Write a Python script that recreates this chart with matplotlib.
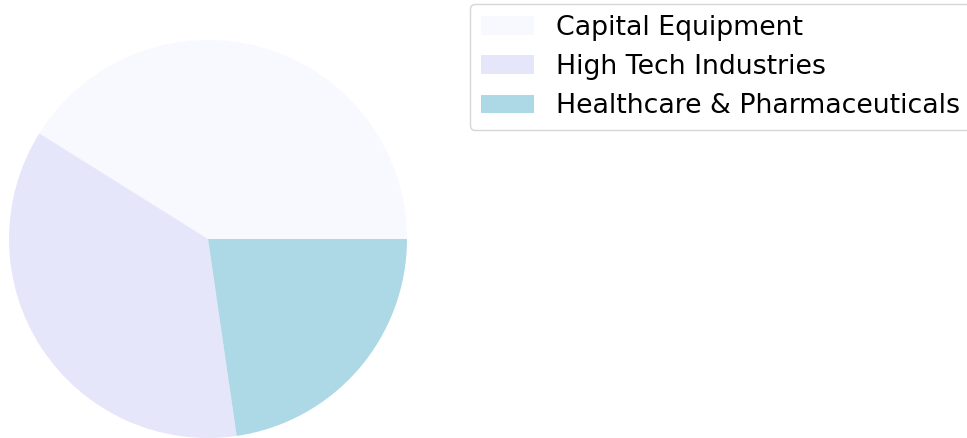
import matplotlib
matplotlib.use("Agg")
import matplotlib.pyplot as plt

categories = ["Capital Equipment", "High Tech Industries", "Healthcare & Pharmaceuticals"]
values = [41.1, 36.2, 22.7]
colors = ["ghostwhite", "lavender", "lightblue"]

fig = plt.figure(figsize=(9.67, 4.38), dpi=100)
ax = fig.add_axes([9/967, 0.0, 398/967, 398/438])
wedges, _ = ax.pie(values, colors=colors, startangle=0)
ax.set_xlim(-1, 1)
ax.set_ylim(-1, 1)
ax.set_aspect("equal")
ax.axis("off")

fig.legend(wedges, categories, loc="upper left", bbox_to_anchor=(470/967, 1 - 4/438),
           fontsize=19.25, borderaxespad=0)
fig.savefig("out.png", dpi=100)
